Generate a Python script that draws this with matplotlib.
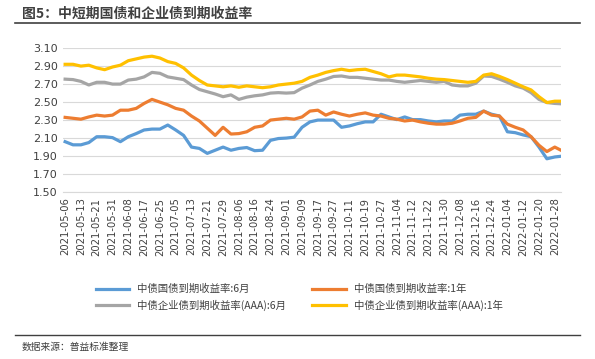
# -*- coding: utf-8 -*-
import numpy as np
import matplotlib
matplotlib.use("Agg")
import matplotlib.pyplot as plt

plt.rcParams['font.family'] = ['Noto Sans CJK SC', 'DejaVu Sans']

# tick labels (every 6 trading days)
dates = ["2021-05-06", "2021-05-13", "2021-05-21", "2021-05-31", "2021-06-08", "2021-06-17",
         "2021-06-25", "2021-07-05", "2021-07-13", "2021-07-21", "2021-07-29", "2021-08-06",
         "2021-08-16", "2021-08-24", "2021-09-01", "2021-09-09", "2021-09-17", "2021-09-27",
         "2021-10-11", "2021-10-19", "2021-10-27", "2021-11-04", "2021-11-12", "2021-11-22",
         "2021-11-30", "2021-12-08", "2021-12-16", "2021-12-24", "2022-01-04", "2022-01-12",
         "2022-01-20", "2022-01-28"]

# yields sampled every half tick interval (~3 trading days)
gz_6m = [2.06, 2.025, 2.025, 2.05, 2.115, 2.115, 2.105, 2.06, 2.115, 2.15,
         2.19, 2.20, 2.20, 2.245, 2.19, 2.13, 2.00, 1.985, 1.93, 1.965,
         2.00, 1.965, 1.985, 1.995, 1.96, 1.965, 2.075, 2.095, 2.10, 2.11,
         2.22, 2.28, 2.30, 2.30, 2.30, 2.22, 2.235, 2.26, 2.28, 2.28,
         2.365, 2.335, 2.305, 2.335, 2.305, 2.305, 2.29, 2.28, 2.29, 2.29,
         2.355, 2.365, 2.365, 2.40, 2.365, 2.345, 2.17, 2.16, 2.135, 2.115,
         2.00, 1.87, 1.89, 1.90]
gz_1y = [2.33, 2.32, 2.31, 2.335, 2.355, 2.345, 2.355, 2.41, 2.41, 2.43,
         2.485, 2.53, 2.50, 2.47, 2.43, 2.41, 2.345, 2.29, 2.21, 2.13,
         2.22, 2.145, 2.15, 2.17, 2.22, 2.235, 2.30, 2.31, 2.32, 2.31,
         2.335, 2.40, 2.41, 2.355, 2.39, 2.365, 2.345, 2.365, 2.38, 2.355,
         2.345, 2.32, 2.31, 2.29, 2.30, 2.28, 2.265, 2.255, 2.255, 2.265,
         2.29, 2.32, 2.33, 2.40, 2.355, 2.345, 2.255, 2.22, 2.19, 2.115,
         2.02, 1.95, 2.00, 1.955]
qy_6m = [2.755, 2.75, 2.73, 2.69, 2.72, 2.72, 2.70, 2.70, 2.745, 2.755,
         2.78, 2.83, 2.82, 2.78, 2.765, 2.75, 2.69, 2.64, 2.615, 2.59,
         2.56, 2.58, 2.53, 2.555, 2.57, 2.58, 2.60, 2.605, 2.60, 2.605,
         2.655, 2.69, 2.73, 2.755, 2.785, 2.79, 2.775, 2.775, 2.765, 2.755,
         2.745, 2.745, 2.73, 2.72, 2.73, 2.74, 2.73, 2.72, 2.73, 2.69,
         2.68, 2.68, 2.71, 2.79, 2.785, 2.755, 2.72, 2.68, 2.655, 2.605,
         2.53, 2.495, 2.485, 2.48]
qy_1y = [2.92, 2.92, 2.90, 2.91, 2.88, 2.86, 2.89, 2.91, 2.96, 2.98,
         3.00, 3.01, 2.99, 2.95, 2.93, 2.88, 2.80, 2.74, 2.69, 2.68,
         2.67, 2.68, 2.665, 2.68, 2.67, 2.66, 2.67, 2.69, 2.70, 2.71,
         2.73, 2.775, 2.80, 2.83, 2.85, 2.865, 2.85, 2.86, 2.865, 2.84,
         2.815, 2.78, 2.80, 2.80, 2.79, 2.78, 2.765, 2.755, 2.75, 2.74,
         2.73, 2.72, 2.73, 2.80, 2.815, 2.785, 2.75, 2.71, 2.67, 2.635,
         2.56, 2.495, 2.51, 2.51]

names = ["中债国债到期收益率:6月", "中债国债到期收益率:1年",
         "中债企业债到期收益率(AAA):6月", "中债企业债到期收益率(AAA):1年"]
colors = ["#5B9BD5", "#ED7D31", "#A5A5A5", "#FFC000"]

fig = plt.figure(figsize=(5.95, 3.59), dpi=100)
ax = fig.add_axes([0.106, 0.465, 0.837, 0.401])

x = np.arange(len(gz_6m)) / 2.0
lines = []
for y, c, n in zip([gz_6m, gz_1y, qy_6m, qy_1y], colors, names):
    l, = ax.plot(x, y, color=c, lw=2.3, label=n, solid_joinstyle="round")
    lines.append(l)

ax.set_ylim(1.50, 3.10)
ax.set_yticks(np.arange(1.50, 3.11, 0.20))
ax.set_yticklabels(["%.2f" % v for v in np.arange(1.50, 3.11, 0.20)], fontsize=8, color="#404040",
                   family="DejaVu Sans")
ax.set_xlim(-0.13, 31.4)
ax.set_xticks(np.arange(len(dates)))
ax.set_xticklabels(dates, rotation=90, fontsize=7.2, color="#404040", family="DejaVu Sans")
ax.grid(axis="y", color="#d9d9d9", lw=0.8)
ax.set_axisbelow(True)
for s in ["top", "right", "left"]:
    ax.spines[s].set_visible(False)
ax.spines["bottom"].set_color("#d9d9d9")
ax.tick_params(length=0, pad=4)

# legend: row 1 blue/orange, row 2 gray/yellow
order = [0, 2, 1, 3]
fig.legend([lines[i] for i in order], [names[i] for i in order], ncol=2,
           loc="upper left", bbox_to_anchor=(0.145, 0.235), frameon=False,
           fontsize=7.5, handlelength=3.2, columnspacing=2.5, labelspacing=0.55,
           labelcolor="#404040")

fig.text(0.037, 0.962, "图5：中短期国债和企业债到期收益率", fontsize=10,
         color="#404040", fontweight="bold", va="center")
fig.add_artist(plt.Line2D([0.025, 0.975], [0.935, 0.935], color="#404040", lw=1.2))
fig.add_artist(plt.Line2D([0.025, 0.975], [0.067, 0.067], color="#404040", lw=1.0))
fig.text(0.037, 0.033, "数据来源：普益标准整理", fontsize=7, color="#404040", va="center")

fig.savefig("out.png", dpi=100)
